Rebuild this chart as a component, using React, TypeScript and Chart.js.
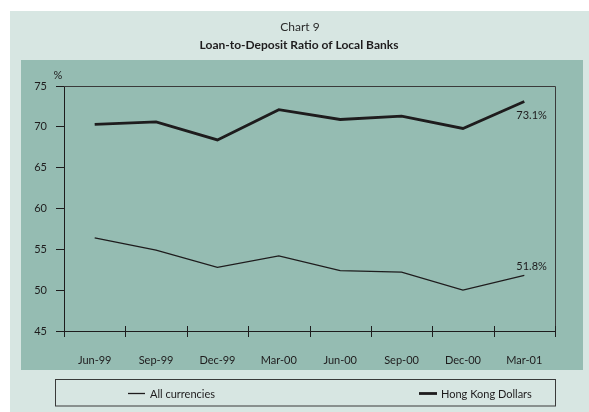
import { useEffect, useRef } from 'react';
import { Chart, registerables } from 'chart.js';

Chart.register(...registerables);

const categories = ['Jun-99', 'Sep-99', 'Dec-99', 'Mar-00', 'Jun-00', 'Sep-00', 'Dec-00', 'Mar-01'];
const allCurrencies = [56.4, 54.9, 52.8, 54.2, 52.4, 52.2, 50.0, 51.8];
const hkDollars = [70.3, 70.6, 68.4, 72.1, 70.9, 71.3, 69.8, 73.1];
const seriesNames = ['All currencies', 'Hong Kong Dollars'];
const endLabels = ['51.8%', '73.1%'];
const yMin = 45;
const yMax = 75;
const yStep = 5;
const chartNumber = 'Chart 9';
const chartTitle = 'Loan-to-Deposit Ratio of Local Banks';
const yUnit = '%';

const FONT = 'Lato, "Open Sans", "DejaVu Sans", sans-serif';
const OUTER_BG = '#d7e6e2';
const PLOT_BG = '#95bcb2';
const INK = '#1e1c1d';

const decorPlugin = {
  id: 'decor',
  beforeDraw(chart: any) {
    const { ctx, width, height } = chart;
    ctx.save();
    ctx.fillStyle = '#ffffff';
    ctx.fillRect(0, 0, width, height);
    ctx.fillStyle = OUTER_BG;
    ctx.fillRect(10, 11, width - 10, height - 11);
    ctx.fillStyle = PLOT_BG;
    ctx.fillRect(21, 60, 562, 310);
    ctx.restore();
  },
  afterDraw(chart: any) {
    const { ctx, chartArea } = chart;
    const { left, right, top, bottom } = chartArea;
    ctx.save();
    // top & right frame
    ctx.strokeStyle = '#3a3a3a';
    ctx.lineWidth = 1;
    ctx.beginPath();
    ctx.moveTo(left, top + 0.5);
    ctx.lineTo(right + 0.5, top + 0.5);
    ctx.lineTo(right + 0.5, bottom);
    ctx.stroke();
    // x tick marks at category boundaries (crossing the axis)
    ctx.strokeStyle = INK;
    const n = categories.length;
    for (let i = 0; i <= n; i++) {
      const x = Math.round(left + (i * (right - left)) / n) + 0.5;
      ctx.beginPath();
      ctx.moveTo(x, bottom - 5);
      ctx.lineTo(x, bottom + 6);
      ctx.stroke();
    }
    // unit label
    ctx.fillStyle = INK;
    ctx.font = `11px ${FONT}`;
    ctx.textAlign = 'center';
    ctx.textBaseline = 'middle';
    ctx.fillText(yUnit, left - 6, top - 11);
    // end labels
    ctx.textAlign = 'left';
    const offsets = [-9, 14];
    chart.data.datasets.forEach((ds: any, di: number) => {
      const meta = chart.getDatasetMeta(di);
      const pt = meta.data[meta.data.length - 1];
      ctx.fillText(endLabels[di], pt.x - 8, pt.y + offsets[di]);
    });
    // titles
    ctx.textAlign = 'center';
    ctx.fillStyle = '#2a2a2a';
    ctx.font = `12px ${FONT}`;
    ctx.fillText(chartNumber, 300, 27);
    ctx.fillStyle = INK;
    ctx.font = `bold 12px ${FONT}`;
    ctx.fillText(chartTitle, 299, 45);
    // legend
    ctx.fillStyle = OUTER_BG;
    ctx.fillRect(55, 379, 500, 27);
    ctx.strokeStyle = '#3a3a3a';
    ctx.lineWidth = 1;
    ctx.strokeRect(55.5, 379.5, 500, 26.5);
    const items = [
      { x0: 128, x1: 145, tx: 150 },
      { x0: 419, x1: 437, tx: 441 },
    ];
    chart.data.datasets.forEach((ds: any, di: number) => {
      const it = items[di];
      ctx.strokeStyle = ds.borderColor;
      ctx.lineWidth = ds.borderWidth;
      ctx.beginPath();
      ctx.moveTo(it.x0, 393.5);
      ctx.lineTo(it.x1, 393.5);
      ctx.stroke();
      ctx.fillStyle = INK;
      ctx.font = `11px ${FONT}`;
      ctx.textAlign = 'left';
      ctx.textBaseline = 'middle';
      ctx.fillText(ds.label, it.tx, 394);
    });
    ctx.restore();
  },
};

export default function App() {
  const ref = useRef<HTMLCanvasElement>(null);
  useEffect(() => {
    document.body.style.margin = '0';
    const chart = new Chart(ref.current as HTMLCanvasElement, {
      type: 'line',
      data: {
        labels: categories,
        datasets: [
          {
            label: seriesNames[0],
            data: allCurrencies,
            borderColor: INK,
            borderWidth: 1.3,
            pointRadius: 0,
            tension: 0,
            fill: false,
          },
          {
            label: seriesNames[1],
            data: hkDollars,
            borderColor: INK,
            borderWidth: 2.8,
            pointRadius: 0,
            tension: 0,
            fill: false,
          },
        ],
      },
      options: {
        responsive: false,
        animation: false,
        devicePixelRatio: 1,
        layout: { padding: { top: 86, right: 34, left: 0, bottom: 0 } },
        plugins: {
          legend: { display: false },
          title: { display: false },
          tooltip: { enabled: false },
        },
        scales: {
          x: {
            offset: true,
            grid: { display: false, offset: true },
            border: { display: true, color: INK, width: 1 },
            ticks: {
              font: { family: FONT, size: 11 },
              color: INK,
              padding: 15,
              maxRotation: 0,
              autoSkip: false,
            },
            afterFit: (s: any) => {
              s.height = 81;
            },
          },
          y: {
            min: yMin,
            max: yMax,
            ticks: {
              stepSize: yStep,
              padding: 9,
              font: { family: FONT, size: 11 },
              color: INK,
            },
            grid: { drawOnChartArea: false, tickLength: 8, color: INK, lineWidth: 1 },
            border: { display: true, color: INK, width: 1 },
            afterFit: (s: any) => {
              s.width = 64;
            },
          },
        },
      },
      plugins: [decorPlugin],
    });
    return () => chart.destroy();
  }, []);
  return (
    <div style={{ width: 589, height: 412 }}>
      <canvas ref={ref} width={589} height={412} style={{ display: 'block' }} />
    </div>
  );
}
